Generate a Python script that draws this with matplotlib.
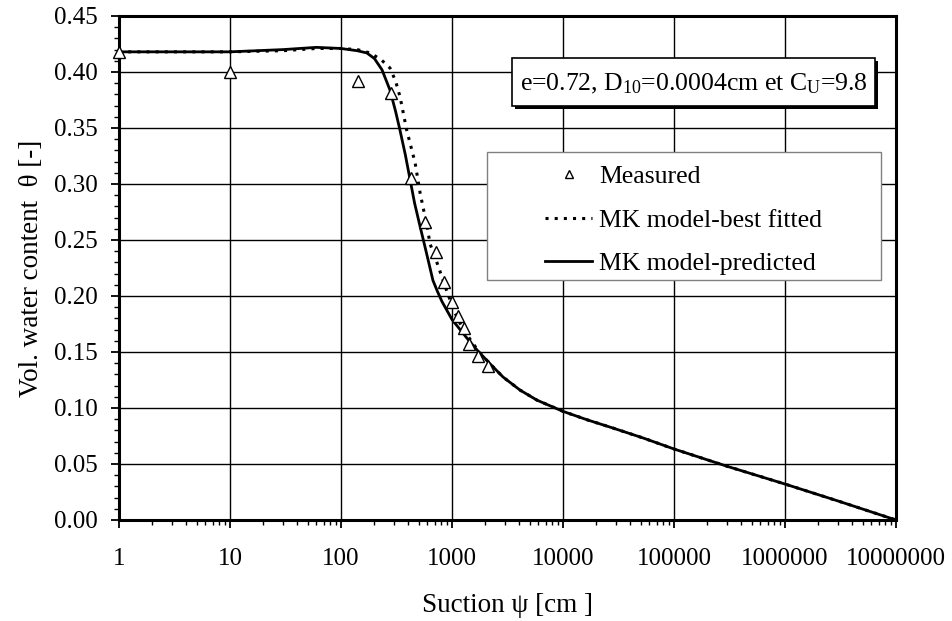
import numpy as np
import matplotlib
matplotlib.use("Agg")
import matplotlib.pyplot as plt
from matplotlib.patches import Rectangle
from matplotlib.ticker import FixedLocator, MultipleLocator, NullFormatter

plt.rcParams['font.family'] = 'Liberation Serif'
plt.rcParams['mathtext.fontset'] = 'custom'
plt.rcParams['mathtext.rm'] = 'Liberation Serif'
plt.rcParams['mathtext.it'] = 'Liberation Serif:italic'

# measured points (suction cm, vol. water content)
meas_x = [1, 10, 142, 283, 427, 571, 718, 847, 1000, 1132, 1282, 1422, 1714, 2110]
meas_y = [0.418, 0.400, 0.392, 0.381, 0.305, 0.266, 0.239, 0.2125, 0.195, 0.182,
          0.171, 0.157, 0.146, 0.1375]

# MK model - predicted (solid)
pred_x = [1, 10, 30, 60, 100, 140, 171, 200, 234, 276, 310, 340, 380, 419, 460,
          516, 552, 610, 673, 740, 813, 1000, 1360, 1690, 2200, 2880, 4100, 5830,
          10000, 16450, 28200, 52800, 100000, 300000, 1000000, 3000000, 10000000]
pred_y = [0.418, 0.418, 0.420, 0.422, 0.421, 0.419, 0.417, 0.412, 0.402, 0.384,
          0.365, 0.348, 0.326, 0.304, 0.283, 0.262, 0.250, 0.232, 0.214, 0.204,
          0.195, 0.179, 0.1625, 0.1515, 0.1395, 0.1277, 0.116, 0.107, 0.097,
          0.0895, 0.0821, 0.0732, 0.0634, 0.048, 0.0321, 0.017, 0.0]

# MK model - best fitted (dotted)
fit_x = [1, 10, 30, 60, 100, 140, 183, 230, 276, 310, 340, 391, 465, 516, 605,
         632, 734, 900, 1063, 1260, 1540, 1750, 2200, 2880, 4100, 5830, 10000,
         16450, 28200, 52800, 100000, 300000, 1000000, 3000000, 10000000]
fit_y = [0.418, 0.418, 0.419, 0.421, 0.421, 0.420, 0.417, 0.411, 0.4036, 0.392,
         0.378, 0.348, 0.319, 0.292, 0.259, 0.247, 0.2295, 0.204, 0.185, 0.170,
         0.158, 0.150, 0.1395, 0.1277, 0.116, 0.107, 0.097, 0.0895, 0.0821,
         0.0732, 0.0634, 0.048, 0.0321, 0.017, 0.0]

xticks = [1, 10, 100, 1000, 10000, 100000, 1000000, 10000000]
xticklabels = ['1', '10', '100', '1000', '10000', '100000', '1000000', '10000000']

fig = plt.figure(figsize=(9.53, 6.21), dpi=100)
ax = fig.add_axes([119/953, 1-520/621, 777/953, 504/621])

ax.plot(fit_x, fit_y, color='black', lw=2.2, ls=(0, (1, 2)), zorder=4,
        label='MK model-best fitted')
ax.plot(pred_x, pred_y, color='black', lw=2.0, zorder=5, label='MK model-predicted')
ax.plot(meas_x, meas_y, ls='none', marker='^', ms=9, mfc='white', mec='black',
        mew=1.0, zorder=6, label='Measured', clip_on=False)

ax.set_xscale('log')
ax.set_xlim(1, 1e7)
ax.set_ylim(0, 0.45)
ax.xaxis.set_major_locator(FixedLocator(xticks))
ax.set_xticklabels(xticklabels)
ax.xaxis.set_minor_locator(matplotlib.ticker.LogLocator(base=10, subs=np.arange(2, 10)))
ax.xaxis.set_minor_formatter(NullFormatter())
ax.yaxis.set_major_locator(MultipleLocator(0.05))
ax.yaxis.set_minor_locator(MultipleLocator(0.01))
ax.yaxis.set_major_formatter(matplotlib.ticker.FormatStrFormatter('%.2f'))

ax.grid(True, which='major', color='black', lw=1.0)
ax.tick_params(which='major', direction='out', length=5.5, width=1.3, labelsize=18)
ax.tick_params(which='minor', direction='out', length=3.5, width=1.0)
ax.tick_params(axis='x', which='major', pad=15)
ax.tick_params(axis='y', which='major', pad=10)
for s in ax.spines.values():
    s.set_linewidth(2.2)

ax.set_xlabel('Suction ψ [cm ]', fontsize=19.5, labelpad=16)
ax.set_ylabel('Vol. water content  θ [-]', fontsize=19.5, labelpad=7)

# legend with a plain grey frame
ax.add_patch(Rectangle((0.4736, 0.476), 0.507, 0.254, transform=ax.transAxes,
                       facecolor='white', edgecolor='#808080', lw=1.0, zorder=7))
h, l = ax.get_legend_handles_labels()
order = [2, 0, 1]
leg = ax.legend([h[i] for i in order], [l[i] for i in order], loc='upper left',
                bbox_to_anchor=(0.548, 0.704), frameon=False, fontsize=18.5,
                handlelength=1.85, handletextpad=0.27, labelspacing=0.8,
                borderpad=0, borderaxespad=0, markerscale=0.6)
leg.set_zorder(8)

# parameter box with shadow
x0, y0, w, hh = 0.5058, 0.8214, 0.4672, 0.0953
dx, dy = 3/777, 3/504
ax.add_patch(Rectangle((x0+dx, y0-dy), w, hh, transform=ax.transAxes,
                       facecolor='black', edgecolor='black', lw=0, zorder=7))
ax.add_patch(Rectangle((x0, y0), w, hh, transform=ax.transAxes,
                       facecolor='white', edgecolor='black', lw=1.2, zorder=7))
ax.text(0.740, 0.866, r'e=0.72, D$_{10}$=0.0004cm et C$_\mathrm{U}$=9.8',
        transform=ax.transAxes, ha='center', va='center', fontsize=18.5, zorder=8)

fig.savefig('out.png', dpi=100)
